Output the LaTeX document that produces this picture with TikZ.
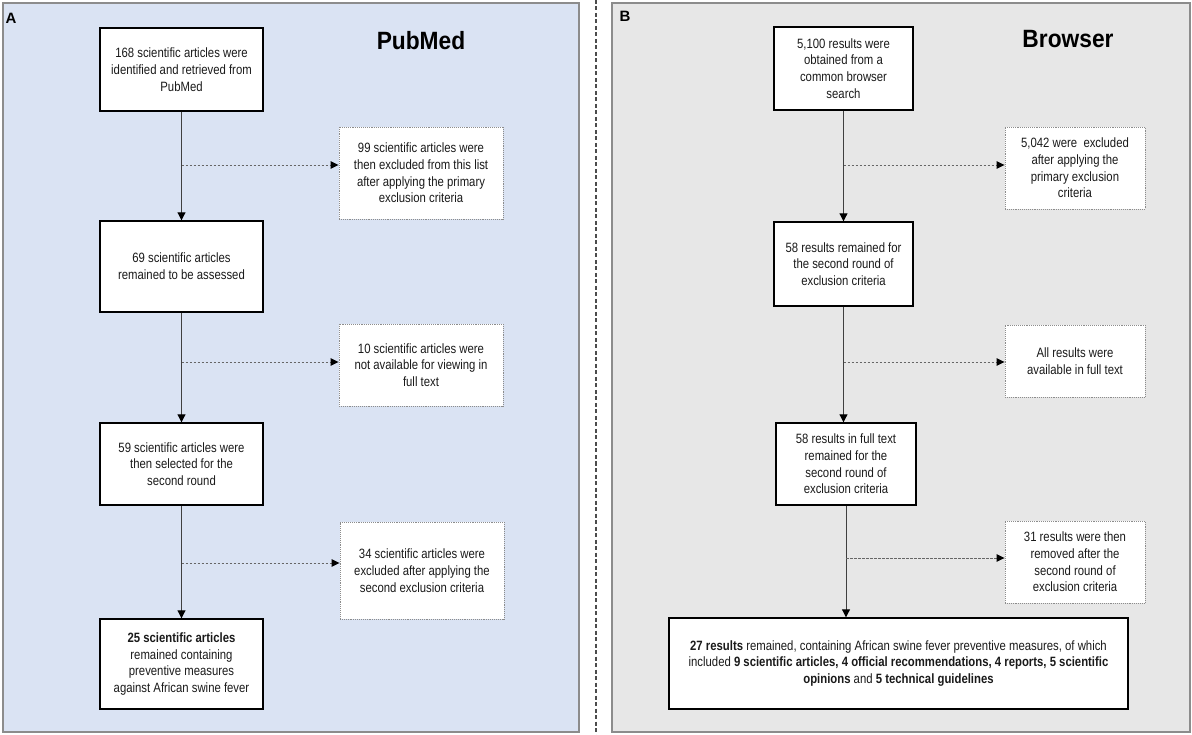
\documentclass[tikz,border=0pt]{standalone}
\usepackage{fontspec}
\setmainfont[FakeStretch=0.84]{Liberation Sans}
\newfontfamily\labelfont{Liberation Sans}
\newfontfamily\titlefont[FakeStretch=0.91]{Liberation Sans}
\usetikzlibrary{arrows.meta}
\definecolor{panelA}{HTML}{DAE3F3}
\definecolor{panelB}{HTML}{E7E7E7}
\definecolor{pborder}{HTML}{8C8C8C}
\definecolor{txt}{HTML}{1A1A1A}
\begin{document}
\begin{tikzpicture}[x=1pt,y=-1pt,
  every node/.style={font=\fontsize{13.5}{16.7}\selectfont, text=txt},
  mainbox/.style={draw=black, line width=1.4pt, fill=white, align=center, inner sep=0pt},
  exbox/.style={draw=black!45, densely dotted, line width=0.9pt, fill=white, align=center, inner sep=0pt},
  flow/.style={draw=black!75, line width=1pt, -{Triangle[length=8pt,width=8pt,color=black]}},
  side/.style={draw=black!60, line width=0.9pt, dash pattern=on 2.5pt off 1.5pt, -{Triangle[length=8pt,width=7.5pt,color=black]}},
  title/.style={font=\titlefont\fontsize{25}{30}\selectfont\bfseries, text=black},
  plabel/.style={font=\labelfont\fontsize{15}{18}\selectfont\bfseries, text=black}
]
\useasboundingbox (0,0) rectangle (1192,735);
\fill[white] (0,0) rectangle (1192,735);
% panels
\draw[pborder, fill=panelA, line width=1.5pt] (3,3) rectangle (579,732);
\draw[pborder, fill=panelB, line width=1.5pt] (612,3) rectangle (1190,732);
\draw[black!70, line width=1.2pt, dash pattern=on 4pt off 2.5pt] (596,0) -- (596,735);
\node[plabel] (labA) at (11,18) {A};
\node[plabel] (labB) at (625,16.5) {B};
\node[title] (tA) at (421,41) {PubMed};
\node[title] (tB) at (1068,39) {Browser};

% Panel A
\node[mainbox, minimum width=163pt, minimum height=83pt] (A1) at (181.5,69.5)
  {168 scientific articles were\\identified and retrieved from\\PubMed};
\node[mainbox, minimum width=163pt, minimum height=91pt] (A2) at (181.5,266.5)
  {69 scientific articles\\remained to be assessed};
\node[mainbox, minimum width=163pt, minimum height=82pt] (A3) at (181.5,464)
  {59 scientific articles were\\then selected for the\\second round};
\node[mainbox, minimum width=163pt, minimum height=90pt] (A4) at (181.5,664)
  {{\bfseries 25 scientific articles}\\remained containing\\preventive measures\\against African swine fever};
\node[exbox, minimum width=164pt, minimum height=92pt] (EA1) at (421,173)
  {99 scientific articles were\\then excluded from this list\\after applying the primary\\exclusion criteria};
\node[exbox, minimum width=164pt, minimum height=82pt] (EA2) at (421,365)
  {10 scientific articles were\\not available for viewing in\\full text};
\node[exbox, minimum width=164pt, minimum height=97pt] (EA3) at (422,570.5)
  {34 scientific articles were\\excluded after applying the\\second exclusion criteria};
\draw[flow] (A1.south) -- (A2.north);
\draw[flow] (A2.south) -- (A3.north);
\draw[flow] (A3.south) -- (A4.north);
\coordinate (da1) at (181.5,165);
\coordinate (da2) at (181.5,362);
\coordinate (da3) at (181.5,563);
\draw[side] (da1) -- (da1 -| EA1.west);
\draw[side] (da2) -- (da2 -| EA2.west);
\draw[side] (da3) -- (da3 -| EA3.west);

% Panel B
\node[mainbox, minimum width=139pt, minimum height=83pt] (B1) at (843.5,68.5)
  {5,100 results were\\obtained from a\\common browser\\search};
\node[mainbox, minimum width=139pt, minimum height=84pt] (B2) at (843.5,264)
  {58 results remained for\\the second round of\\exclusion criteria};
\node[mainbox, minimum width=140pt, minimum height=82pt] (B3) at (846,464)
  {58 results in full text\\remained for the\\second round of\\exclusion criteria};
\node[mainbox, minimum width=459pt, minimum height=91pt] (B4) at (898.5,663.5)
  {{\bfseries 27 results} remained, containing African swine fever preventive measures, of which\\
   included {\bfseries 9 scientific articles, 4 official recommendations, 4 reports, 5 scientific}\\
   {\bfseries opinions} and {\bfseries 5 technical guidelines}};
\node[exbox, minimum width=140pt, minimum height=82pt] (EB1) at (1075,168)
  {5,042 were ~excluded\\after applying the\\primary exclusion\\criteria};
\node[exbox, minimum width=140pt, minimum height=72pt] (EB2) at (1075,361)
  {All results were\\available in full text};
\node[exbox, minimum width=140pt, minimum height=82pt] (EB3) at (1075,562)
  {31 results were then\\removed after the\\second round of\\exclusion criteria};
\draw[flow] (B1.south) -- (B2.north);
\draw[flow] (B2.south) -- (B2.south |- B3.north);
\draw[flow] (B3.south) -- (B3.south |- B4.north);
\coordinate (db1) at (843.5,165);
\coordinate (db2) at (843.5,362);
\coordinate (db3) at (846,558);
\draw[side] (db1) -- (db1 -| EB1.west);
\draw[side] (db2) -- (db2 -| EB2.west);
\draw[side] (db3) -- (db3 -| EB3.west);
\end{tikzpicture}
\end{document}
